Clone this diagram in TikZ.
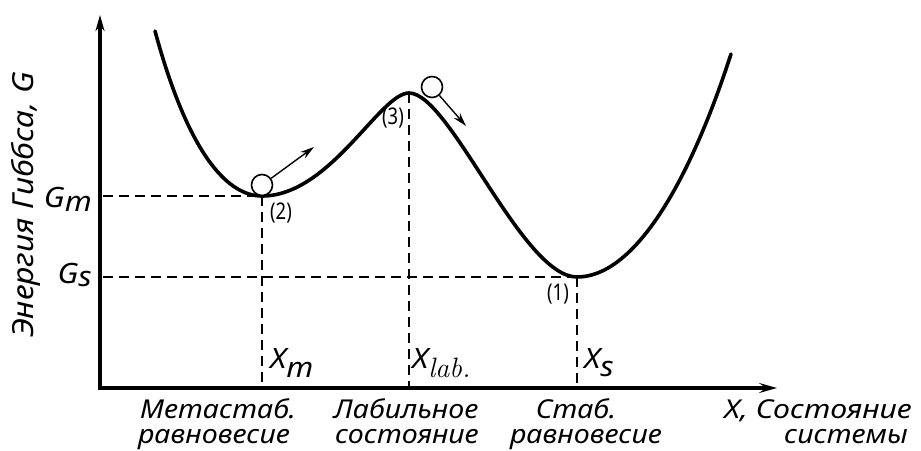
\documentclass[tikz,border=0pt]{standalone}
\usepackage{fontspec}
\newfontfamily\labf{Noto Sans}[FakeStretch=1.1]
\newfontfamily\numf{Noto Sans}[FakeStretch=0.8]
\usetikzlibrary{arrows.meta}
\begin{document}
\begin{tikzpicture}[x=1pt,y=-1pt,
  lbl/.style={font=\labf\itshape\fontsize{26}{26}\selectfont, inner sep=0pt, text height=15pt, text depth=4pt},
  wide/.style={font=\labf\itshape\fontsize{26}{26}\selectfont, inner sep=0pt, xscale=1.06, text height=15pt, text depth=4pt},
  big/.style={font=\labf\itshape\fontsize{28}{28}\selectfont, inner sep=0pt},
  num/.style={font=\numf\fontsize{23}{23}\selectfont, inner sep=0pt},
  guide/.style={line width=1.4pt, dash pattern=on 10pt off 6pt},
  curve/.style={line width=3.6pt, line cap=round},
  axis/.style={line width=3.2pt},
  ball/.style={circle, draw, line width=1.6pt, fill=white, minimum size=21pt, inner sep=0pt},
  move/.style={line width=1.4pt, -{Stealth[length=14pt,width=8pt]}}]
\useasboundingbox[fill=white] (0,0) rectangle (921,450);
% axes
\coordinate (O) at (100,388);
\coordinate (Ytop) at (100,15);
\coordinate (Xend) at (777,388);
\draw[axis, {Stealth[length=16pt,width=9pt,inset=5pt]}-{Stealth[length=18pt,width=10pt,inset=7pt]}] (Ytop) -- (O) -- (Xend);
% key points
\coordinate (c0) at (155,31);
\coordinate (m2) at (262,196);
\coordinate (p3) at (409,93);
\coordinate (s1) at (577,277);
\coordinate (c1) at (731,54);
\coordinate (gm) at (103,196);
\coordinate (gs) at (103,277);
% guides
\draw[guide] (gm) -- (m2);
\draw[guide] (gs) -- (s1);
\draw[guide] (m2) -- (m2 |- O);
\draw[guide] (p3) -- (p3 |- O);
\draw[guide] (s1) -- (s1 |- O);
% curve
\draw[curve] (c0) .. controls (190,160) and (230,196) .. (m2)
  .. controls (330,196) and (380,93) .. (p3)
  .. controls (450,93) and (522,277) .. (s1)
  .. controls (632,277) and (687,190) .. (c1);
% balls
\node[ball] (b1) at (262,185) {};
\node[ball] (b2) at (432,87) {};
\coordinate (a1) at (314,147);
\coordinate (a2) at (466,126);
\draw[move] (b1) -- (a1);
\draw[move] (b2) -- (a2);
% point numbers
\node[num] (n2) at (281,213) {(2)};
\node[num] (n3) at (393,118) {(3)};
\node[num] (n1) at (558,294) {(1)};
% axis labels
\node[big, anchor=base east] (Gm) at (92,207) {G\raisebox{-4pt}{m}};
\node[big, anchor=base east] (Gs) at (92,283) {G\raisebox{-3pt}{s}};
\node[font=\labf\itshape\fontsize{29}{29}\selectfont, inner sep=0pt, rotate=90, anchor=base] (ylab) at (33,205) {Энергия Гиббса, G};
\node[big, anchor=base west] (xm) at (270,368) {X\raisebox{-9pt}{m}};
\node[big, anchor=base west] (xlab) at (412,368) {X\raisebox{-9pt}{\normalfont\itshape\fontsize{28}{28}\selectfont lab.}};
\node[big, anchor=base west] (xs) at (584,368) {X\raisebox{-8pt}{s}};
% bottom labels
\node[lbl, anchor=base] (l1a) at (218,418) {Метастаб.};
\node[lbl, anchor=base] (l1b) at (214,443) {равновесие};
\node[lbl, anchor=base] (l2a) at (406,418) {Лабильное};
\node[lbl, anchor=base] (l2b) at (407,443) {состояние};
\node[lbl, anchor=base] (l3a) at (576,418) {Стаб.};
\node[lbl, anchor=base] (l3b) at (586,443) {равновесие};
\node[wide, anchor=base] (l4a) at (818,418) {X, Состояние};
\node[lbl, anchor=base] (l4b) at (846,443) {системы};
\end{tikzpicture}
\end{document}
